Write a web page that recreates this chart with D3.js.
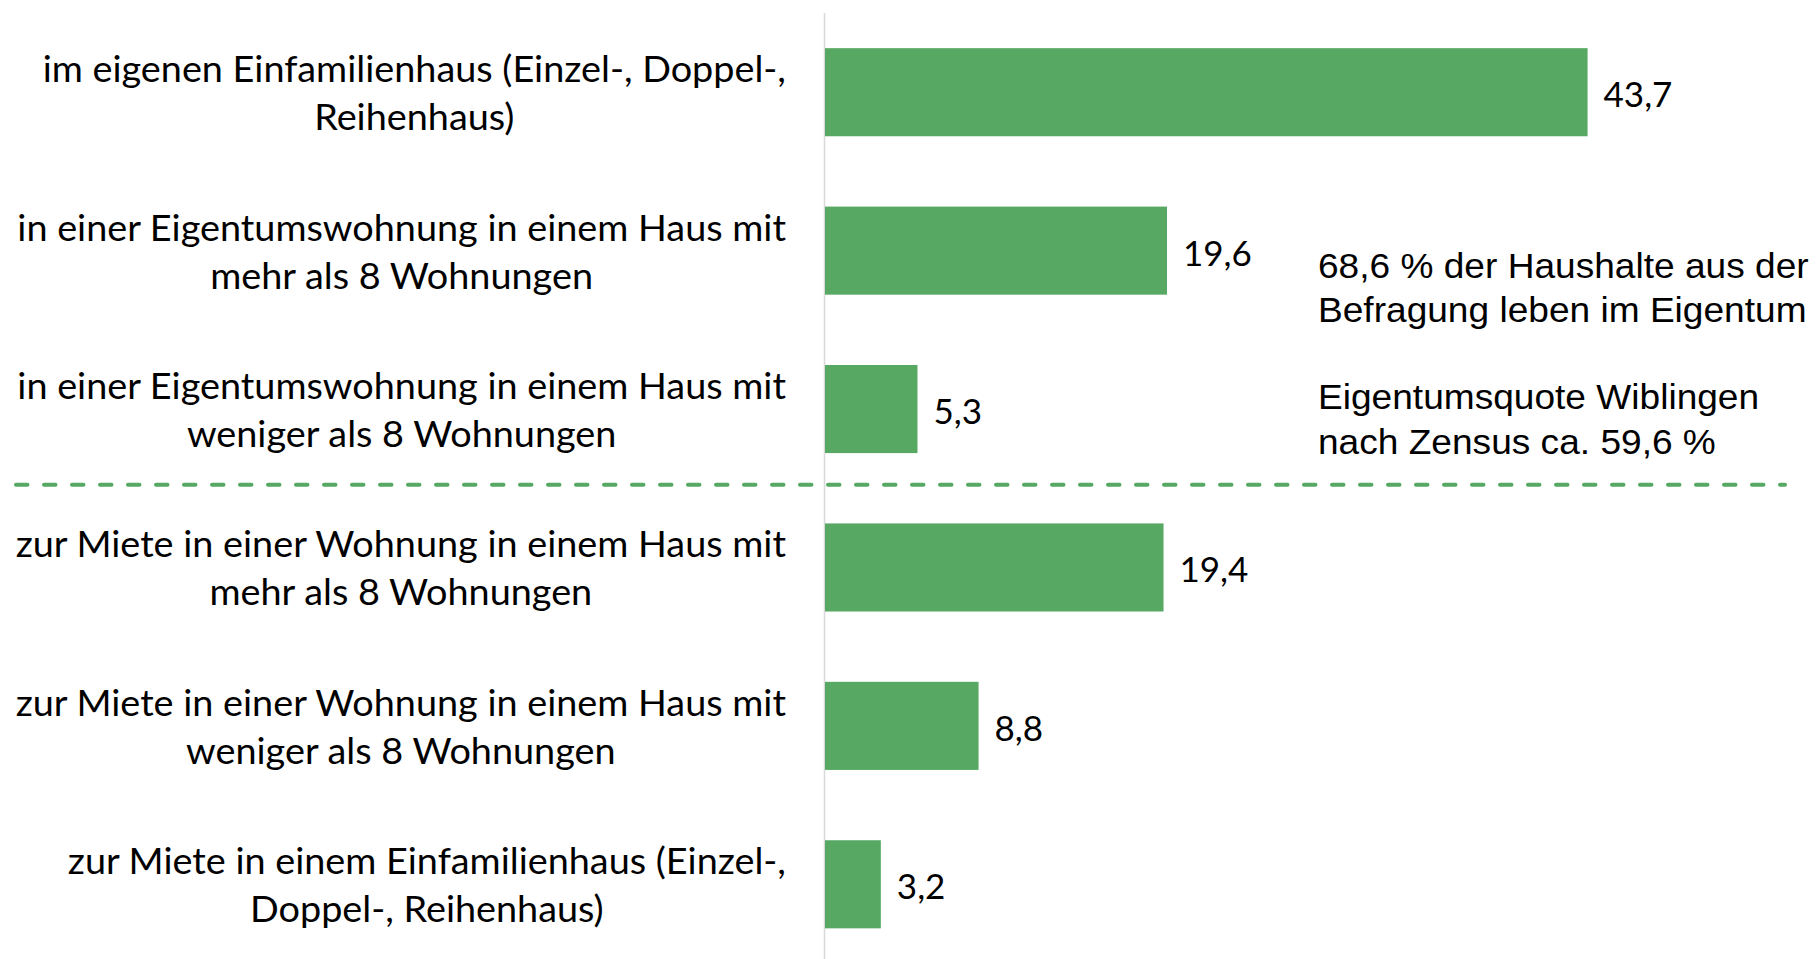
<!DOCTYPE html>
<html>
<head>
<meta charset="utf-8">
<script src="https://cdn.jsdelivr.net/npm/d3@7"></script>
<style>
  html, body { margin: 0; padding: 0; background: #ffffff; }
  svg { display: block; }
</style>
</head>
<body>
<svg id="chart" width="1816" height="959"></svg>
<script>
// ---- data ----
const categories = [
  "im eigenen Einfamilienhaus (Einzel-, Doppel-,|Reihenhaus)",
  "in einer Eigentumswohnung in einem Haus mit|mehr als 8 Wohnungen",
  "in einer Eigentumswohnung in einem Haus mit|weniger als 8 Wohnungen",
  "zur Miete in einer Wohnung in einem Haus mit|mehr als 8 Wohnungen",
  "zur Miete in einer Wohnung in einem Haus mit|weniger als 8 Wohnungen",
  "zur Miete in einem Einfamilienhaus (Einzel-,|Doppel-, Reihenhaus)"
];
const values = [43.7, 19.6, 5.3, 19.4, 8.8, 3.2];
const annotationLines = [
  "68,6 % der Haushalte aus der",
  "Befragung leben im Eigentum",
  "Eigentumsquote Wiblingen",
  "nach Zensus ca. 59,6 %"
];
const xDomain = [0, 50];
const dividerAfterIndex = 2; // divider between owner and renter groups

// ---- layout ----
const svg = d3.select("#chart");
const green = "#56a862";
const labelFont = "Lato, 'Open Sans', sans-serif";
const annoFont = "'Liberation Sans', Arial, sans-serif";

const x = d3.scaleLinear().domain(xDomain).range([825, 1697.5]);
const y = d3.scaleBand()
  .domain(d3.range(categories.length))
  .range([13, 963.5])
  .paddingInner(0.444)
  .paddingOuter(0.222);

const locale = d3.formatLocale({decimal: ",", thousands: ".", grouping: [3], currency: ["", " €"]});
const fmt = locale.format(".1f");

// axis line (vertical category axis, no ticks)
const yAxis = d3.axisLeft(y).tickSize(0).tickFormat("");
const axisG = svg.append("g").attr("transform", `translate(${x(0) - 0.5},0)`).call(yAxis);
axisG.select(".domain").attr("d", `M0,13V959`).attr("stroke", "#d9d9d9").attr("stroke-width", 1.5);

// bars
svg.append("g").selectAll("rect")
  .data(values)
  .join("rect")
  .attr("x", x(0))
  .attr("y", (d, i) => y(i))
  .attr("width", d => x(d) - x(0))
  .attr("height", y.bandwidth())
  .attr("fill", green);

// value labels
svg.append("g").selectAll("text")
  .data(values)
  .join("text")
  .attr("x", d => x(d) + 16)
  .attr("y", (d, i) => y(i) + y.bandwidth() / 2 + 15)
  .attr("font-family", labelFont)
  .attr("font-size", 35)
  .attr("fill", "#000")
  .text(d => fmt(d));

// category labels (two centered lines, block right-aligned)
const labelRight = 786;
const labelStretch = 1.05;
const labelG = svg.append("g");
categories.forEach((c, i) => {
  const lines = c.split("|");
  const cy = y(i) + y.bandwidth() / 2;
  const g = labelG.append("g");
  const texts = lines.map((ln, k) => g.append("text")
    .attr("x", 0)
    .attr("y", cy - 10 + k * 48)
    .attr("text-anchor", "middle")
    .attr("font-family", labelFont)
    .attr("font-size", 36)
    .attr("fill", "#000")
    .text(ln));
  const maxW = d3.max(texts, t => t.node().getComputedTextLength()) * labelStretch;
  g.attr("transform", `translate(${labelRight - maxW / 2},0) scale(${labelStretch},1)`);
});

// dashed divider between groups
const divY = (y(dividerAfterIndex) + y.bandwidth() + y(dividerAfterIndex + 1)) / 2 - 3.5;
svg.append("line")
  .attr("x1", 16).attr("x2", 1785)
  .attr("y1", divY).attr("y2", divY)
  .attr("stroke", green)
  .attr("stroke-width", 4)
  .attr("stroke-linecap", "round")
  .attr("stroke-dasharray", "11.5,16.5");

// annotation text
const annoBaselines = [277.7, 321.7, 409.3, 454];
const annoG = svg.append("g").attr("transform", "translate(1318,0) scale(1.06,1)");
annoG.selectAll("text")
  .data(annotationLines)
  .join("text")
  .attr("x", 0)
  .attr("y", (d, i) => annoBaselines[i])
  .attr("font-family", annoFont)
  .attr("font-size", 35)
  .attr("fill", "#000")
  .text(d => d);
</script>
</body>
</html>
